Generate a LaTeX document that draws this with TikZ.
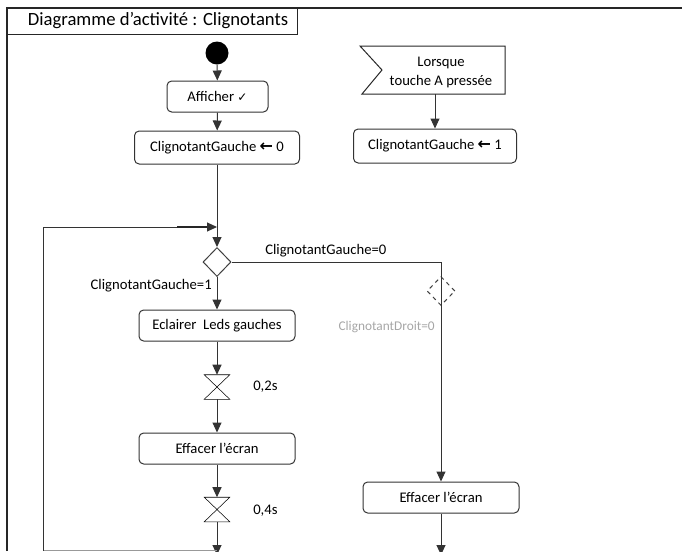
\documentclass[tikz,border=0pt]{standalone}
\usepackage{fontspec}
\setmainfont{Carlito}
\newfontfamily\symfont{DejaVu Sans}
\usetikzlibrary{shapes.geometric,arrows.meta}
\begin{document}
\begin{tikzpicture}[x=0.75pt,y=-0.75pt,
  every node/.style={font=\fontsize{11}{13}\selectfont},
  act/.style={draw=black!80, rounded corners=3.5pt, line width=0.75pt, minimum width=117pt, minimum height=23.25pt, inner sep=0pt},
  conn/.style={draw=black!80, line width=0.75pt, -{Triangle[length=7.5pt,width=6.75pt]}},
  plain/.style={draw=black!80, line width=0.75pt},
  dec/.style={diamond, draw=black!75, line width=0.75pt, minimum width=21pt, minimum height=21.75pt, inner sep=0pt},
  timer/.style={minimum width=18.75pt, minimum height=18pt, inner sep=0pt},
  guard/.style={inner sep=0pt},
  flagtext/.style={align=center, inner sep=0pt, font=\fontsize{11}{14.25}\selectfont}
]
\useasboundingbox (0,0) rectangle (682,551);
\clip (0,0) rectangle (682,551);

% frame and title
\draw[line width=1pt, black!85] (7,551) -- (7,8) -- (682,8);
\draw[line width=0.75pt, black!85] (7,34) -- (297,34) -- (297,8);
\node[font=\fontsize{14}{16}\selectfont] (title) at (158,21) {Diagramme d’activité : Clignotants};

% left column
\node[circle, fill=black, minimum size=17.25pt, inner sep=0pt] (init) at (217,53) {};
\node[act, minimum width=75.75pt] (aff) at (217.5,96.5) {Afficher {\symfont\fontsize{9}{10}\selectfont ✓}};
\node[act, minimum width=123.75pt, minimum height=24.75pt] (cg0) at (217,147.5) {ClignotantGauche {\symfont\bfseries\fontsize{12}{12}\selectfont ←} 0};
\node[dec] (d1) at (217,262) {};
\node[act] (ecl) at (217,325.5) {Eclairer~ Leds gauches};
\node[timer] (t1) at (217,387) {};
\node[act] (eff1) at (217,448.5) {Effacer l’écran};
\node[timer] (t2) at (217,509.5) {};
\coordinate (join) at (217,227);
\coordinate (mergeL) at (217,555);
\coordinate (lc) at (43,550.5);
\coordinate (lb) at (217,550.5);
\coordinate (lt) at (43,227);

\draw (t1.north west) -- (t1.north east) -- (t1.south west) -- (t1.south east) -- cycle;
\draw (t2.north west) -- (t2.north east) -- (t2.south west) -- (t2.south east) -- cycle;

\draw[conn] (init) -- (aff);
\draw[conn] (aff) -- (cg0);
\draw[conn] (cg0) -- (d1);
\draw[conn] (d1) -- (ecl);
\draw[conn] (ecl) -- (t1);
\draw[conn] (t1) -- (eff1);
\draw[conn] (eff1) -- (t2);
\draw[conn] (t2) -- (mergeL);
\draw[plain, black!40] (lb) -- (lc);
\draw[conn] (lc) -- (lt) -- (join);
\draw[line width=1.5pt, black!85] (177,227) -- (207,227);

% right column
\node[dec, dashed] (d2) at (441,291) {};
\node[act] (eff2) at (441,497.5) {Effacer l’écran};
\coordinate (mergeR) at (441,555);
\draw[conn] (d1.east) -| (eff2.north);
\draw[conn] (eff2) -- (mergeR);

% guards and labels
\node[guard, anchor=west] (g0) at (265,251) {ClignotantGauche=0};
\node[guard, anchor=east] (g1) at (212,286) {ClignotantGauche=1};
\node[guard, anchor=east, text=black!35, font=\fontsize{10}{12}\selectfont] (gd) at (435,327) {ClignotantDroit=0};
\node[guard, anchor=west] (l1) at (253,387) {0,2s};
\node[guard, anchor=west] (l2) at (253,511) {0,4s};

% event
\coordinate (fnw) at (360,46);
\coordinate (fne) at (505,46);
\coordinate (fse) at (505,94);
\coordinate (fsw) at (362,94);
\coordinate (fn) at (382,70);
\draw[line width=0.75pt, black!85] (fnw) -- (fne) -- (fse) -- (fsw) -- (fn) -- cycle;
\node[flagtext] (flag) at (441,72) {Lorsque\\touche A pressée};
\node[act, minimum width=122.25pt, minimum height=25.5pt] (cg1) at (435,146) {ClignotantGauche {\symfont\bfseries\fontsize{12}{12}\selectfont ←} 1};
\coordinate (fb) at (435,94);
\draw[conn] (fb) -- (cg1);
\end{tikzpicture}
\end{document}
